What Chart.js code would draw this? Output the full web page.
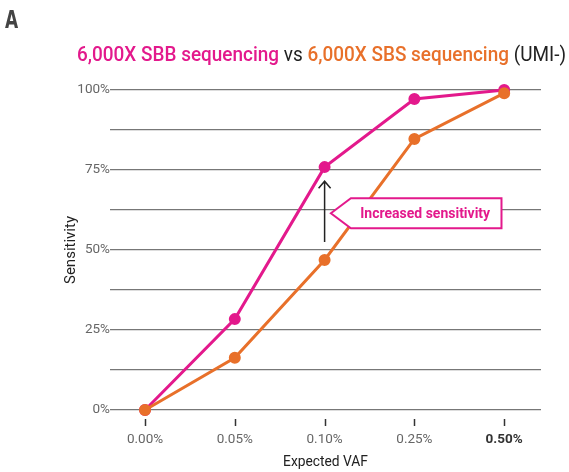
<!DOCTYPE html>
<html>
<head>
<meta charset="utf-8">
<script src="https://cdn.jsdelivr.net/npm/chart.js@4.4.1/dist/chart.umd.min.js"></script>
<style>
  html, body { margin: 0; padding: 0; background: #fff; }
  #wrap { width: 569px; height: 472px; }
</style>
</head>
<body>
<div id="wrap"><canvas id="myChart"></canvas></div>
<script>
const xLabels = ['0.00%', '0.05%', '0.10%', '0.25%', '0.50%'];
const sbbValues = [0, 28.4, 75.9, 97.2, 100];
const sbsValues = [0, 16.3, 46.9, 84.7, 99];
const yTickLabels = ['0%', '25%', '50%', '75%', '100%'];

var pink = '#e3198c';
var orange = '#e8702a';

function toPoints(arr) {
    return arr.map(function (v, i) { return { x: i, y: v }; });
}

// title, axis titles, offset tick marks and the callout
const extras = {
    id: 'extras',
    afterDraw(chart) {
        const ctx = chart.ctx;
        const xs = chart.scales.x, ys = chart.scales.y;
        const area = chart.chartArea;
        ctx.save();

        // panel letter (condensed)
        ctx.fillStyle = '#444';
        ctx.font = 'bold 25px "DejaVu Sans"';
        ctx.textBaseline = 'alphabetic';
        ctx.textAlign = 'left';
        ctx.translate(5, 28);
        ctx.scale(0.68, 1);
        ctx.fillText('A', 0, 0);
        ctx.setTransform(1, 0, 0, 1, 0, 0);

        // coloured title, squeezed to look condensed
        const parts = [
            ['6,000X SBB sequencing', pink, '500'],
            [' vs ', '#222', '400'],
            ['6,000X SBS sequencing', orange, '500'],
            [' (UMI-)', '#222', '400']
        ];
        let total = 0;
        parts.forEach(function (p) {
            ctx.font = p[2] + ' 21px Roboto';
            total += ctx.measureText(p[0]).width;
        });
        const sx = 489 / total;
        ctx.translate(77, 61);
        ctx.scale(sx, 1);
        let cx = 0;
        parts.forEach(function (p) {
            ctx.font = p[2] + ' 21px Roboto';
            ctx.fillStyle = p[1];
            ctx.fillText(p[0], cx, 0);
            cx += ctx.measureText(p[0]).width;
        });
        ctx.setTransform(1, 0, 0, 1, 0, 0);

        // axis titles
        ctx.fillStyle = '#222';
        ctx.font = '15px Roboto';
        ctx.textAlign = 'center';
        ctx.save();
        ctx.translate((area.left + area.right) / 2, 466);
        ctx.scale(0.92, 1);
        ctx.fillText('Expected VAF', 0, 0);
        ctx.restore();
        ctx.save();
        ctx.translate(75, (area.top + area.bottom) / 2);
        ctx.rotate(-Math.PI / 2);
        ctx.fillText('Sensitivity', 0, 0);
        ctx.restore();

        // x tick marks below the axis
        ctx.strokeStyle = '#333';
        ctx.lineWidth = 1.5;
        xLabels.forEach(function (l, i) {
            const px = Math.round(xs.getPixelForValue(i)) + 0.5;
            ctx.beginPath();
            ctx.moveTo(px, area.bottom + 9);
            ctx.lineTo(px, area.bottom + 16);
            ctx.stroke();
        });

        // arrow
        const ax = xs.getPixelForValue(2);
        const ay0 = ys.getPixelForValue(52.5);
        const ay1 = ys.getPixelForValue(71.5);
        ctx.strokeStyle = '#222';
        ctx.lineWidth = 1.5;
        ctx.beginPath();
        ctx.moveTo(ax, ay0);
        ctx.lineTo(ax, ay1);
        ctx.moveTo(ax - 6, ay1 + 7);
        ctx.lineTo(ax, ay1);
        ctx.lineTo(ax + 6, ay1 + 7);
        ctx.stroke();

        // callout box
        const tipX = xs.getPixelForValue(2.07);
        const midY = ys.getPixelForValue(61.5);
        const bx0 = tipX + 20, bx1 = xs.getPixelForValue(3.97);
        const by0 = midY - 15, by1 = midY + 15;
        ctx.beginPath();
        ctx.moveTo(tipX, midY);
        ctx.lineTo(bx0, by0);
        ctx.lineTo(bx1, by0);
        ctx.lineTo(bx1, by1);
        ctx.lineTo(bx0, by1);
        ctx.closePath();
        ctx.fillStyle = '#fff';
        ctx.fill();
        ctx.strokeStyle = pink;
        ctx.lineWidth = 2;
        ctx.stroke();
        ctx.fillStyle = pink;
        ctx.font = 'bold 14px Roboto';
        ctx.textAlign = 'center';
        ctx.textBaseline = 'middle';
        ctx.fillText('Increased sensitivity', (bx0 + bx1) / 2 - 1, midY + 1);

        ctx.restore();
    }
};

const data = {
    datasets: [{
        label: 'SBS',
        data: toPoints(sbsValues),
        borderColor: orange,
        backgroundColor: orange,
        borderWidth: 3,
        pointRadius: 4.5,
        pointHoverRadius: 4.5
    }, {
        label: 'SBB',
        data: toPoints(sbbValues),
        borderColor: pink,
        backgroundColor: pink,
        borderWidth: 3,
        pointRadius: 4.5,
        pointHoverRadius: 4.5
    }]
};

const config = {
    type: 'line',
    data: data,
    options: {
        responsive: false,
        animation: false,
        clip: false,
        layout: { padding: { left: 0, right: 28, top: 90, bottom: 0 } },
        plugins: {
            legend: { display: false },
            tooltip: { enabled: false }
        },
        scales: {
            x: {
                type: 'linear',
                min: -0.39,
                max: 4.41,
                afterFit: function (s) { s.height = 62; },
                afterBuildTicks: function (s) {
                    s.ticks = xLabels.map(function (l, i) { return { value: i }; });
                },
                grid: { display: false },
                border: { display: false },
                ticks: {
                    padding: 14,
                    color: function (c) { return c.index === 4 ? '#333' : '#666'; },
                    font: function (c) {
                        return { family: 'Roboto', size: 13.5, weight: c.index === 4 ? 'bold' : 'normal' };
                    },
                    callback: function (v) { return xLabels[v]; }
                }
            },
            y: {
                min: 0,
                max: 100,
                afterFit: function (s) { s.width = 110; },
                border: { display: false },
                grid: {
                    color: '#777',
                    lineWidth: 1.3,
                    drawTicks: false
                },
                ticks: {
                    stepSize: 12.5,
                    padding: 0,
                    color: '#666',
                    font: { family: 'Roboto', size: 13.5 },
                    callback: function (v) {
                        return v % 25 === 0 ? yTickLabels[v / 25] : '';
                    }
                }
            }
        }
    },
    plugins: [extras]
};

var canvas = document.getElementById('myChart');
canvas.width = 569;
canvas.height = 472;
var myChart = new Chart(canvas, config);
</script>
</body>
</html>
